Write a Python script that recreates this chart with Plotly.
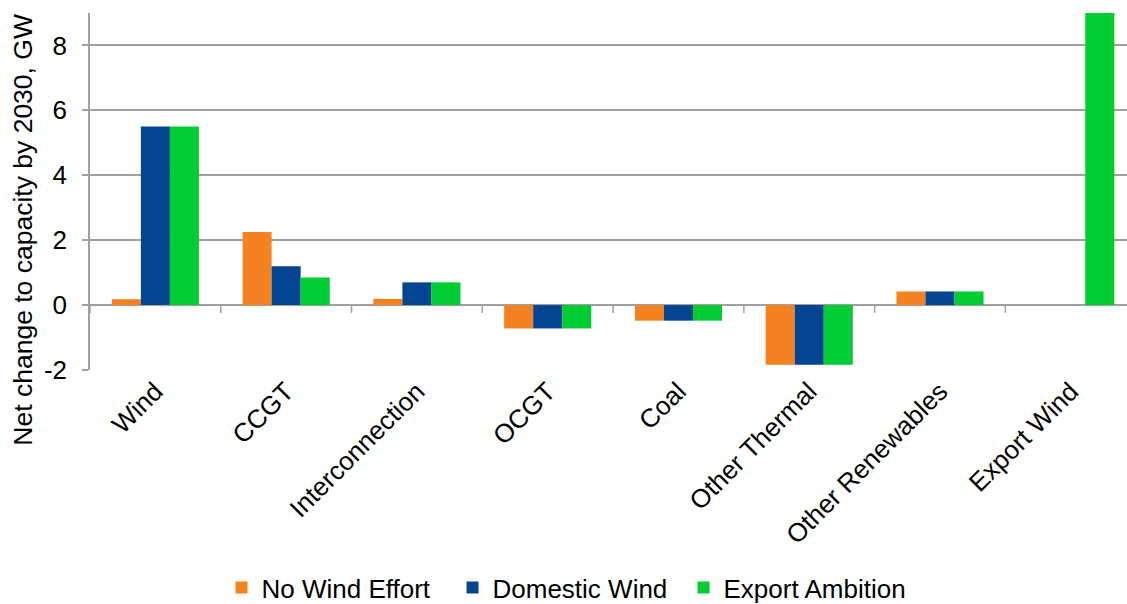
import plotly.graph_objects as go

categories = ["Wind", "CCGT", "Interconnection", "OCGT", "Coal",
              "Other Thermal", "Other Renewables", "Export Wind"]
no_wind_effort = [0.18, 2.25, 0.19, -0.72, -0.48, -1.84, 0.42, 0.0]
domestic_wind = [5.5, 1.2, 0.7, -0.72, -0.48, -1.84, 0.42, 0.0]
export_ambition = [5.5, 0.85, 0.7, -0.72, -0.48, -1.84, 0.42, 9.0]
y_ticks = [-2, 0, 2, 4, 6, 8]
y_tick_text = ["-2", "0", "2", "4", "6", "8"]
y_title = "Net change to capacity by 2030, GW"

series = [
    ("No Wind Effort", no_wind_effort, "#F58220"),
    ("Domestic Wind", domestic_wind, "#034591"),
    ("Export Ambition", export_ambition, "#00CC33"),
]

FONT = "Liberation Sans, Arial, sans-serif"
GRID = "#a0a0a0"
SIZE = 26

fig = go.Figure()
for name, vals, color in series:
    fig.add_trace(go.Bar(
        x=list(range(len(categories))), y=vals, name=name,
        marker=dict(color=color, line=dict(width=0)),
    ))

# category-boundary tick marks hanging from the zero line
for k in range(len(categories)):
    fig.add_shape(type="line", xref="x", yref="y",
                  x0=k - 0.5, x1=k - 0.5, y0=0, y1=-0.24,
                  line=dict(color=GRID, width=1.5))

# vertical axis title, placed in page coordinates
fig.add_annotation(text=y_title, textangle=-90, showarrow=False,
                   xref="paper", yref="paper", x=-0.065, y=0.392,
                   xanchor="center", yanchor="middle",
                   font=dict(size=26.5, family=FONT, color="black"))

fig.update_layout(
    width=1127, height=604,
    margin=dict(l=90, r=0, t=13, b=234, autoexpand=False),
    paper_bgcolor="white", plot_bgcolor="white",
    barmode="group", bargap=0.334, bargroupgap=0,
    font=dict(family=FONT, size=SIZE, color="black"),
    showlegend=True,
    legend=dict(orientation="h", xref="container", yref="container",
                x=0.504, xanchor="center", y=0.027, yanchor="middle",
                entrywidth=186, font=dict(size=SIZE),
                traceorder="normal"),
    xaxis=dict(
        tickmode="array", tickvals=list(range(len(categories))),
        ticktext=categories, tickangle=-45, automargin=False,
        range=[-0.5, 7.43], showgrid=False, zeroline=False,
        showline=False, ticks="", tickfont=dict(size=SIZE),
    ),
    yaxis=dict(
        range=[-2, 9], tickmode="array", tickvals=y_ticks,
        ticktext=y_tick_text, automargin=False,
        showgrid=True, gridcolor=GRID, gridwidth=1.5,
        zeroline=True, zerolinecolor=GRID, zerolinewidth=1.5,
        showline=True, linecolor=GRID, linewidth=1.5,
        ticks="outside", ticklen=6, tickcolor=GRID, tickwidth=1.5,
        ticklabelstandoff=10,
        tickfont=dict(size=SIZE),
    ),
)

fig.write_html("out.html")
